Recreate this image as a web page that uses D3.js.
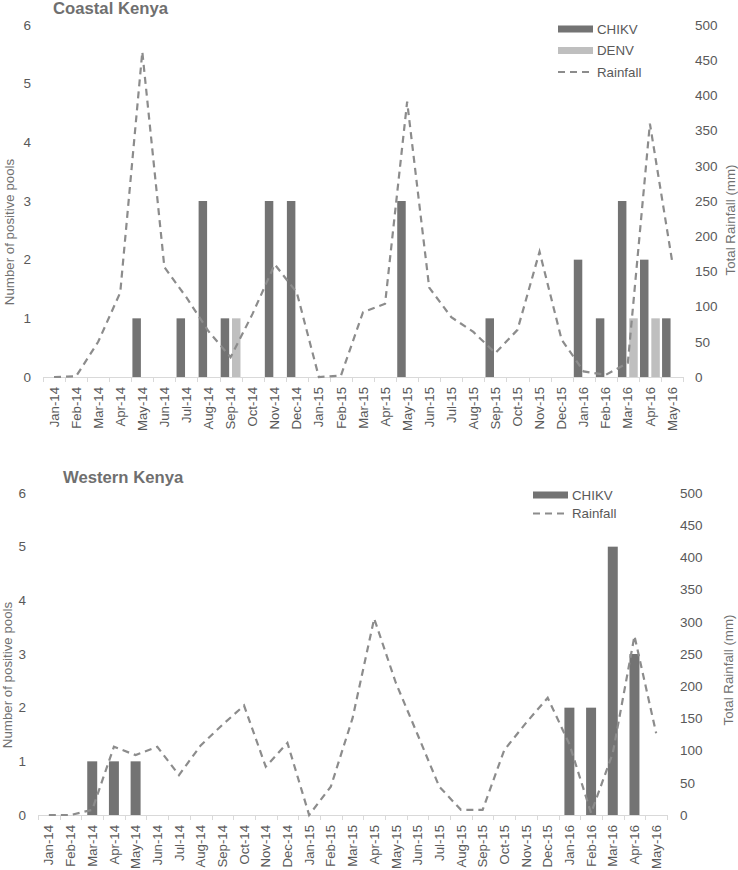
<!DOCTYPE html>
<html>
<head>
<meta charset="utf-8">
<script src="https://cdn.jsdelivr.net/npm/d3@7"></script>
<style>
  body { margin: 0; background: #fff; }
  svg { display: block; font-family: "Liberation Sans", Arial, sans-serif; }
</style>
</head>
<body>
<svg id="chart" width="738" height="870"></svg>
<script>
const months = ["Jan-14","Feb-14","Mar-14","Apr-14","May-14","Jun-14","Jul-14","Aug-14","Sep-14","Oct-14","Nov-14","Dec-14",
  "Jan-15","Feb-15","Mar-15","Apr-15","May-15","Jun-15","Jul-15","Aug-15","Sep-15","Oct-15","Nov-15","Dec-15",
  "Jan-16","Feb-16","Mar-16","Apr-16","May-16"];

// Coastal Kenya
const coastalCHIKV = [0,0,0,0,1,0,1,3,1,0,3,3, 0,0,0,0,3,0,0,0,1,0,0,0, 2,1,3,2,1];
const coastalDENV  = [0,0,0,0,0,0,0,0,1,0,0,0, 0,0,0,0,0,0,0,0,0,0,0,0, 0,0,1,1,0];
const coastalRain  = [0,1,50,120,462,156,113,65,28,90,160,120, 0,2,92,104,391,127,85,64,34,67,178,53, 8,3,20,360,166];

// Western Kenya
const westernCHIKV = [0,0,1,1,1,0,0,0,0,0,0,0, 0,0,0,0,0,0,0,0,0,0,0,0, 2,2,5,3,0];
const westernRain  = [0,0,8,106,93,106,62,108,140,170,75,112, 0,44,150,305,205,125,44,8,8,101,143,182, 110,3,96,278,127];

const leftTicks = [0,1,2,3,4,5,6];
const rightTicks = [0,50,100,150,200,250,300,350,400,450,500];

const svg = d3.select("#chart");
const TXT = "#595959";
const AXIS = "#d9d9d9";
const CHIKV_COL = "#737373";
const DENV_COL = "#bfbfbf";
const RAIN_COL = "#8c8c8c";

function panel(cfg) {
  const g = svg.append("g");
  const x = d3.scaleBand().domain(months).range([cfg.x0, cfg.x1]).padding(0);
  const y = d3.scaleLinear().domain([0, 6]).range([cfg.y0, cfg.yTop]);
  const y2 = d3.scaleLinear().domain([0, 500]).range([cfg.y0, cfg.yTop]);

  // title
  g.append("text").attr("x", cfg.titleX).attr("y", cfg.titleY)
    .attr("font-size", 16.7).attr("font-weight", "bold").attr("fill", "#6f6f6f")
    .text(cfg.title);

  // left axis
  const ly = d3.axisLeft(y).tickValues(leftTicks).tickFormat(d3.format("d")).tickSize(0).tickPadding(0);
  const lg = g.append("g").attr("transform", `translate(${cfg.leftLabelX},0)`).call(ly);
  lg.select(".domain").remove();
  lg.selectAll("text").attr("font-size", 13.5).attr("fill", TXT).attr("font-family", "Liberation Sans, Arial, sans-serif");

  // right axis
  const ry = d3.axisRight(y2).tickValues(rightTicks).tickFormat(d3.format("d")).tickSize(0).tickPadding(0);
  const rg = g.append("g").attr("transform", `translate(${cfg.rightLabelX},0)`).call(ry);
  rg.select(".domain").remove();
  rg.selectAll("text").attr("font-size", 13.5).attr("fill", TXT).attr("font-family", "Liberation Sans, Arial, sans-serif");

  // axis titles
  g.append("text").attr("transform", `translate(${cfg.leftTitleX},${cfg.leftTitleY}) rotate(-90)`)
    .attr("text-anchor", "middle").attr("font-size", 13.3).attr("fill", "#707070")
    .text("Number of positive pools");
  g.append("text").attr("transform", `translate(${cfg.rightTitleX},${cfg.rightTitleY}) rotate(-90)`)
    .attr("text-anchor", "middle").attr("font-size", 13.3).attr("fill", "#707070")
    .text("Total Rainfall (mm)");

  // bars
  if (cfg.denv) {
    const inner = d3.scaleBand().domain(["CHIKV","DENV"]).range([0, x.bandwidth()]).paddingInner(0.25).paddingOuter(0.1);
    const series = [["CHIKV", cfg.chikv, CHIKV_COL], ["DENV", cfg.denv, DENV_COL]];
    series.forEach(([name, vals, col]) => {
      g.append("g").selectAll("rect").data(months.map((m, i) => ({m, v: vals[i]})).filter(d => d.v > 0))
        .join("rect")
        .attr("x", d => x(d.m) + inner(name))
        .attr("width", inner.bandwidth())
        .attr("y", d => y(d.v))
        .attr("height", d => y(0) - y(d.v))
        .attr("fill", col);
    });
  } else {
    const bw = x.bandwidth() * 0.46;
    g.append("g").selectAll("rect").data(months.map((m, i) => ({m, v: cfg.chikv[i]})).filter(d => d.v > 0))
      .join("rect")
      .attr("x", d => x(d.m) + (x.bandwidth() - bw) / 2)
      .attr("width", bw)
      .attr("y", d => y(d.v))
      .attr("height", d => y(0) - y(d.v))
      .attr("fill", CHIKV_COL);
  }

  // x axis line and boundary ticks
  g.append("line").attr("x1", cfg.x0).attr("x2", cfg.x1).attr("y1", cfg.y0 + 0.5).attr("y2", cfg.y0 + 0.5)
    .attr("stroke", AXIS).attr("stroke-width", 1);
  const bounds = months.map(m => x(m)).concat([cfg.x1]);
  g.append("g").selectAll("line").data(bounds).join("line")
    .attr("x1", d => Math.round(d) + 0.5).attr("x2", d => Math.round(d) + 0.5)
    .attr("y1", cfg.y0).attr("y2", cfg.y0 + 5)
    .attr("stroke", AXIS).attr("stroke-width", 1);

  // x labels
  g.append("g").selectAll("text").data(months).join("text")
    .attr("transform", d => `translate(${x(d) + x.bandwidth() / 2},${cfg.y0 + cfg.labelGap}) rotate(-90)`)
    .attr("text-anchor", "end").attr("dy", "0.35em")
    .attr("font-size", 13.2).attr("fill", TXT)
    .text(d => d);

  // rainfall line
  const line = d3.line().x((d, i) => x(months[i]) + x.bandwidth() / 2).y(d => y2(d));
  g.append("path").datum(cfg.rain).attr("d", line)
    .attr("fill", "none").attr("stroke", RAIN_COL).attr("stroke-width", 2.2)
    .attr("stroke-dasharray", "7,5");

  // legend
  const lgd = g.append("g");
  cfg.legend.forEach((item, i) => {
    const yy = cfg.legY + i * cfg.legStep;
    if (item.type === "bar") {
      lgd.append("rect").attr("x", cfg.legX).attr("y", yy - 3.5).attr("width", 35).attr("height", 7).attr("fill", item.color);
    } else {
      lgd.append("line").attr("x1", cfg.legX).attr("x2", cfg.legX + 35).attr("y1", yy).attr("y2", yy)
        .attr("stroke", RAIN_COL).attr("stroke-width", 2.2).attr("stroke-dasharray", "7,5");
    }
    lgd.append("text").attr("x", cfg.legX + 39).attr("y", yy).attr("dy", "0.35em")
      .attr("font-size", 13.3).attr("fill", TXT).text(item.label);
  });
}

panel({
  title: "Coastal Kenya", titleX: 53, titleY: 13.5,
  x0: 43, x1: 683, yTop: 25, y0: 377,
  leftLabelX: 31, rightLabelX: 695,
  leftTitleX: 14, leftTitleY: 232, rightTitleX: 735, rightTitleY: 220,
  labelGap: 10,
  chikv: coastalCHIKV, denv: coastalDENV, rain: coastalRain,
  legX: 558, legY: 29, legStep: 21.5,
  legend: [{type: "bar", color: CHIKV_COL, label: "CHIKV"}, {type: "bar", color: DENV_COL, label: "DENV"}, {type: "line", label: "Rainfall"}]
});

panel({
  title: "Western Kenya", titleX: 63, titleY: 483,
  x0: 38, x1: 667, yTop: 493, y0: 815,
  leftLabelX: 26, rightLabelX: 680,
  leftTitleX: 12, leftTitleY: 675, rightTitleX: 733, rightTitleY: 670,
  labelGap: 10,
  chikv: westernCHIKV, denv: null, rain: westernRain,
  legX: 533, legY: 495, legStep: 18.5,
  legend: [{type: "bar", color: CHIKV_COL, label: "CHIKV"}, {type: "line", label: "Rainfall"}]
});
</script>
</body>
</html>
